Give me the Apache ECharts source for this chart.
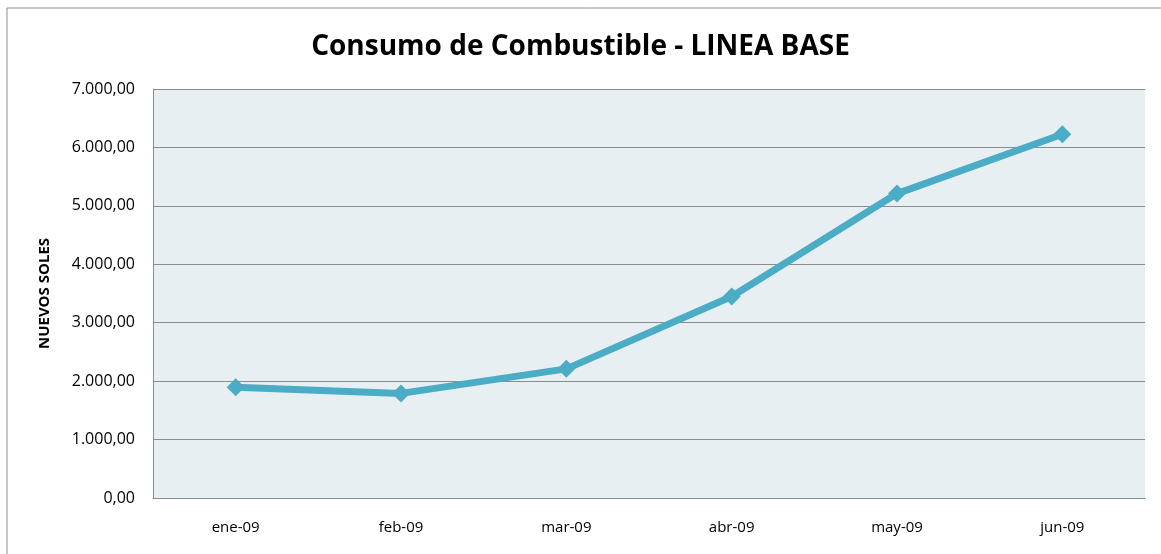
<!DOCTYPE html>
<html>
<head>
<meta charset="utf-8">
<title>Consumo de Combustible</title>
<script src="https://cdn.jsdelivr.net/npm/echarts@6/dist/echarts.min.js"></script>
<style>
  html, body { margin: 0; padding: 0; background: #fff; }
  #chart { width: 1161px; height: 554px; }
</style>
</head>
<body>
<div id="chart"></div>
<script>
// datos
var meses = ['ene-09', 'feb-09', 'mar-09', 'abr-09', 'may-09', 'jun-09'];
var consumo = [1895, 1790, 2210, 3450, 5210, 6225];
var yMin = 0;
var yMax = 7000;
var yPaso = 1000;

// 7000 -> "7.000,00"
function formatoSoles(v) {
  var partes = v.toFixed(2).split('.');
  var entero = partes[0].replace(/\B(?=(\d{3})+(?!\d))/g, '.');
  return entero + ',' + partes[1];
}

var myChart = echarts.init(document.getElementById('chart'));
var fuente = 'Open Sans';

myChart.setOption({
  animation: false,
  textStyle: { fontFamily: fuente },
  title: {
    text: 'Consumo de Combustible - LINEA BASE',
    left: 'center',
    top: 28,
    textStyle: { fontFamily: fuente, fontSize: 28, fontWeight: 'bold', color: '#000' }
  },
  // marco exterior del grafico
  graphic: [{
    type: 'rect',
    shape: { x: 7, y: 8, width: 1200, height: 600 },
    style: { fill: 'none', stroke: '#8c8c8c', lineWidth: 1 },
    z: -1
  }],
  grid: {
    left: 153,
    right: 16,
    top: 89,
    bottom: 56,
    show: true,
    backgroundColor: '#e8eff3',
    borderWidth: 0
  },
  xAxis: {
    type: 'category',
    data: meses,
    boundaryGap: true,
    axisLine: { show: true, lineStyle: { color: '#8c8c8c', width: 1 } },
    axisTick: { show: false },
    axisLabel: { color: '#000', fontSize: 15, margin: 22 }
  },
  yAxis: {
    type: 'value',
    min: yMin,
    max: yMax,
    interval: yPaso,
    name: 'NUEVOS SOLES',
    nameLocation: 'middle',
    nameGap: 101,
    nameRotate: 90,
    nameTextStyle: { color: '#000', fontSize: 15, fontWeight: 'bold', fontFamily: fuente },
    axisLine: { show: true, lineStyle: { color: '#8c8c8c', width: 1 } },
    axisTick: { show: false },
    axisLabel: {
      color: '#000',
      fontSize: 16,
      margin: 18,
      formatter: function (v) { return formatoSoles(v); }
    },
    splitLine: { show: true, lineStyle: { color: '#8c8c8c', width: 1 } }
  },
  series: [{
    name: 'Consumo',
    type: 'line',
    data: consumo,
    symbol: 'diamond',
    symbolSize: 18,
    lineStyle: { color: '#4bacc6', width: 7 },
    itemStyle: { color: '#4bacc6' }
  }]
});
</script>
</body>
</html>
